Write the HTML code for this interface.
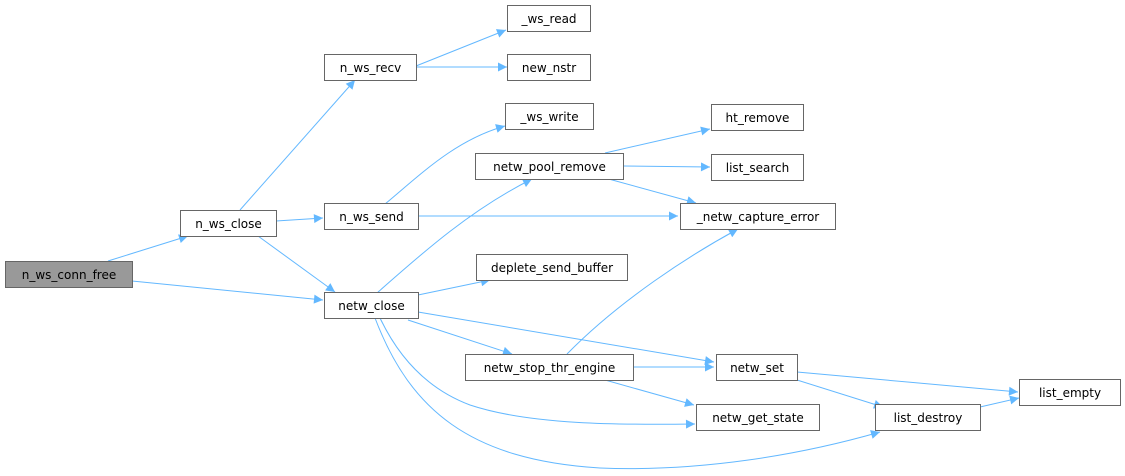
<!DOCTYPE html>
<html><head><meta charset="utf-8"><style>html,body{margin:0;padding:0;background:#fff}svg{display:block}</style></head><body>
<svg width="1125" height="476" viewBox="0 0 1125 476" xmlns="http://www.w3.org/2000/svg" font-family="DejaVu Sans, Liberation Sans, sans-serif" font-size="12">
<defs><marker id="a" viewBox="0 0 10 10" refX="10" refY="5" markerWidth="10" markerHeight="9" markerUnits="userSpaceOnUse" orient="auto"><path d="M0,0 L10,5 L0,10 z" fill="#63b8ff"/></marker></defs>
<g fill="none" stroke="#63b8ff" stroke-width="1" marker-end="url(#a)">
<path d="M108,261 L188,236"/>
<path d="M132,281 L323,300"/>
<path d="M240,210 C280,165 320,120 355,80"/>
<path d="M276,221 L323,218"/>
<path d="M258,236 L335,292"/>
<path d="M416,66 L506,30"/>
<path d="M416,67 L507,67"/>
<path d="M385,204 C420,175 455,140 505,126"/>
<path d="M418,216 L678,216"/>
<path d="M377,293 C420,255 470,210 532,179"/>
<path d="M418,295 L490,280"/>
<path d="M408,320 L512,354"/>
<path d="M418,312 L714,362"/>
<path d="M380,318 C400,360 430,390 470,405 C530,425 620,425 695,424"/>
<path d="M375,318 C410,410 470,460 600,468 C700,472 800,455 880,432"/>
<path d="M605,153 L710,129"/>
<path d="M623,166 L710,167"/>
<path d="M605,178 L696,203"/>
<path d="M567,354 C620,300 690,255 738,229"/>
<path d="M633,367 L714,367"/>
<path d="M605,380 L694,405"/>
<path d="M797,372 L1018,392"/>
<path d="M797,380 L883,407"/>
<path d="M980,407 L1019,398"/>
</g>
<g stroke="#666" stroke-width="1" fill="#fff">
<rect x="5.5" y="261.5" width="127" height="26" fill="#999"/>
<rect x="180.5" y="210.5" width="96" height="26"/>
<rect x="324.5" y="54.5" width="92" height="26"/>
<rect x="507.5" y="5.5" width="83" height="26"/>
<rect x="507.5" y="54.5" width="83" height="26"/>
<rect x="505.5" y="103.5" width="88" height="26"/>
<rect x="324.5" y="203.5" width="94" height="26"/>
<rect x="324.5" y="292.5" width="94" height="26"/>
<rect x="475.5" y="153.5" width="148" height="26"/>
<rect x="476.5" y="254.5" width="151" height="26"/>
<rect x="465.5" y="354.5" width="168" height="26"/>
<rect x="711.5" y="104.5" width="92" height="26"/>
<rect x="711.5" y="154.5" width="92" height="26"/>
<rect x="680.5" y="203.5" width="155" height="26"/>
<rect x="716.5" y="354.5" width="81" height="26"/>
<rect x="696.5" y="404.5" width="123" height="26"/>
<rect x="875.5" y="404.5" width="105" height="26"/>
<rect x="1019.5" y="379.5" width="101" height="26"/>
</g>
<g fill="#000" text-anchor="middle">
<text x="69" y="279">n_ws_conn_free</text>
<text x="228.5" y="228">n_ws_close</text>
<text x="370.5" y="72">n_ws_recv</text>
<text x="549" y="23">_ws_read</text>
<text x="549" y="72">new_nstr</text>
<text x="549.5" y="121">_ws_write</text>
<text x="371.5" y="221">n_ws_send</text>
<text x="371.5" y="310">netw_close</text>
<text x="549.5" y="171">netw_pool_remove</text>
<text x="552" y="272">deplete_send_buffer</text>
<text x="549.5" y="372">netw_stop_thr_engine</text>
<text x="757.5" y="122">ht_remove</text>
<text x="757.5" y="172">list_search</text>
<text x="758" y="221">_netw_capture_error</text>
<text x="757" y="372">netw_set</text>
<text x="758" y="422">netw_get_state</text>
<text x="928" y="422">list_destroy</text>
<text x="1070" y="397">list_empty</text>
</g>
</svg>
</body></html>
